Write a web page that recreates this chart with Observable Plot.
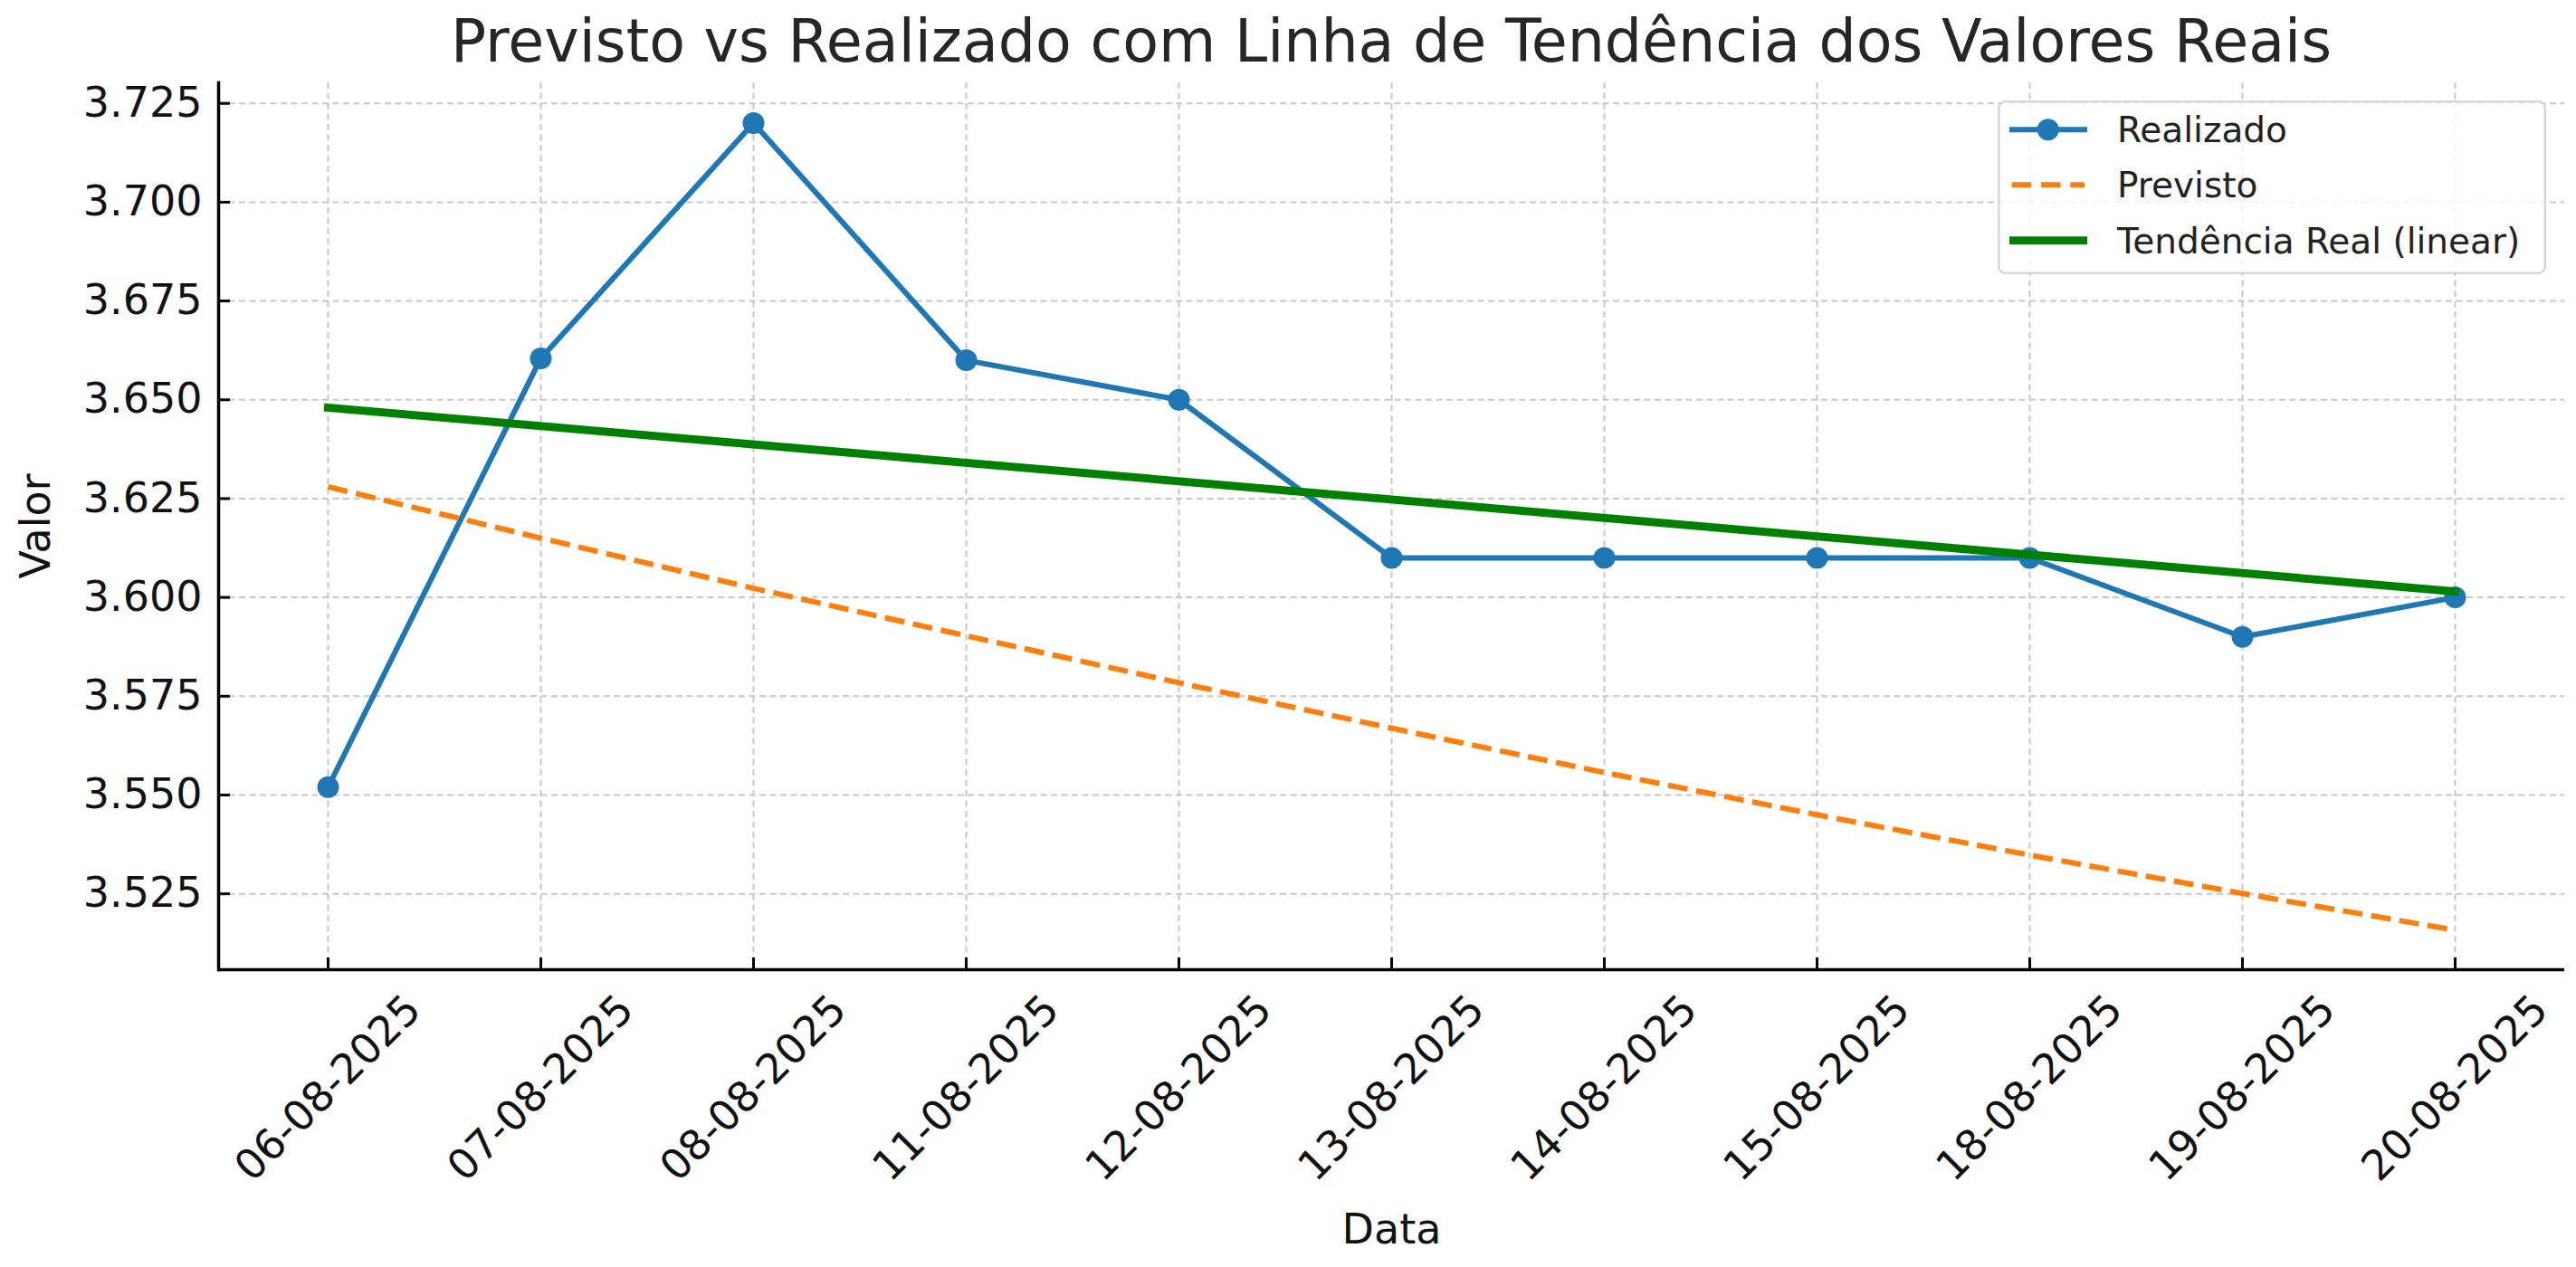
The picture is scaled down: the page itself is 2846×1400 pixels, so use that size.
<!DOCTYPE html>
<html><head><meta charset="utf-8">
<script src="https://cdn.jsdelivr.net/npm/d3@7"></script>
<script src="https://cdn.jsdelivr.net/npm/@observablehq/plot@0.6"></script>
<style>
html,body{margin:0;padding:0;background:#fff;}
#wrap{position:relative;width:2846px;height:1400px;font-family:"DejaVu Sans",sans-serif;overflow:hidden;}
#title{position:absolute;left:241px;width:2592px;top:13px;text-align:center;font-size:65px;line-height:65px;color:#262626;white-space:nowrap;}
#chart{position:absolute;left:0;top:86px;}
#legend{position:absolute;left:2207px;top:111px;}
</style></head>
<body><div id="wrap"><div id="title"></div><div id="chart"></div><div id="legend"></div></div>
<script>
// ---- data ----
const dates = ["06-08-2025","07-08-2025","08-08-2025","11-08-2025","12-08-2025","13-08-2025","14-08-2025","15-08-2025","18-08-2025","19-08-2025","20-08-2025"];
const realizado = [3.552, 3.6605, 3.720, 3.660, 3.650, 3.610, 3.610, 3.610, 3.610, 3.590, 3.600];
const previsto = [3.6280, 3.6150, 3.6023, 3.5903, 3.5784, 3.5669, 3.5557, 3.5450, 3.5348, 3.5251, 3.5158];
const trendDates = ["06-08-2025", "20-08-2025"];
const trendValues = [3.6480, 3.6015];
const yTicks = [3.525, 3.550, 3.575, 3.600, 3.625, 3.650, 3.675, 3.700, 3.725];
const yDomain = [3.5058, 3.7302];
const seriesNames = ["Realizado", "Previsto", "Tendência Real (linear)"];
const seriesColors = ["#1f77b4", "#ff7f0e", "#008000"];
const titleText = "Previsto vs Realizado com Linha de Tendência dos Valores Reais";
const xLabel = "Data";
const yLabel = "Valor";

// ---- build tables ----
const realRows = dates.map((d, i) => ({date: d, value: realizado[i]}));
const prevRows = dates.map((d, i) => ({date: d, value: previsto[i]}));
const trendRows = trendDates.map((d, i) => ({date: d, value: trendValues[i]}));

document.getElementById("title").textContent = titleText;

const W = 2846, H = 1314;
const mL = 241, mR = 13, mT = 5, mB = 329;
const plotW = W - mL - mR, plotH = H - mT - mB;
const tickLen = 13;
const gridStyle = {stroke: "#c8c8c8", strokeOpacity: 1, strokeWidth: 2, strokeDasharray: "7,4.5"};

const chart = Plot.plot({
  width: W, height: H,
  marginLeft: mL, marginRight: mR, marginTop: mT, marginBottom: mB,
  style: {fontFamily: "DejaVu Sans", fontSize: "46px", color: "#111", background: "white", overflow: "visible"},
  x: {type: "point", domain: dates, padding: 0.5, axis: null},
  y: {domain: yDomain, ticks: yTicks, tickFormat: d3.format(".3f"), tickSize: 0, tickPadding: 18, label: null},
  marks: [
    Plot.ruleY(yTicks, {y: d => d, ...gridStyle}),
    Plot.ruleX(dates, {x: d => d, ...gridStyle}),
    Plot.tickY(yTicks, {y: d => d, stroke: "#000", strokeWidth: 3, insetRight: plotW - tickLen}),
    Plot.tickX(dates, {x: d => d, stroke: "#000", strokeWidth: 3, insetTop: plotH - tickLen}),
    Plot.ruleY([yDomain[0]], {stroke: "#000", strokeWidth: 3.5}),
    Plot.frame({anchor: "left", stroke: "#000", strokeWidth: 3.5}),
    Plot.text(dates, {x: d => d, text: d => d, frameAnchor: "bottom", rotate: -45, textAnchor: "middle", lineAnchor: "middle", dy: 131, fontSize: 46, fill: "#111"}),
    Plot.text([xLabel], {text: d => d, frameAnchor: "bottom", lineAnchor: "bottom", dy: 302, fontSize: 46, fill: "#111"}),
    Plot.text([yLabel], {text: d => d, frameAnchor: "left", dx: -201, rotate: -90, textAnchor: "middle", lineAnchor: "middle", fontSize: 46, fill: "#111"}),
    Plot.line(realRows, {x: "date", y: "value", stroke: seriesColors[0], strokeWidth: 6, strokeLinejoin: "round"}),
    Plot.dot(realRows, {x: "date", y: "value", r: 12, fill: seriesColors[0], stroke: "none"}),
    Plot.line(prevRows, {x: "date", y: "value", stroke: seriesColors[1], strokeWidth: 6, strokeDasharray: "22,9.6", strokeLinecap: "butt"}),
    Plot.line(trendRows, {x: "date", y: "value", stroke: seriesColors[2], strokeWidth: 9, strokeLinecap: "square"})
  ]
});
document.getElementById("chart").appendChild(chart);

// ---- legend (overlay inside the plot area, like matplotlib) ----
const lg = d3.select("#legend").append("svg").attr("width", 608).attr("height", 194)
  .style("font-family", "DejaVu Sans").style("overflow", "visible");
lg.append("rect").attr("x", 1.25).attr("y", 1.25).attr("width", 603.5).attr("height", 189.5)
  .attr("rx", 7).attr("fill", "white").attr("fill-opacity", 0.8)
  .attr("stroke", "#cccccc").attr("stroke-opacity", 0.8).attr("stroke-width", 2.5);
const rowY = [32.3, 93.3, 154.7];
const handleStyles = [
  {w: 6, dash: null, marker: true},
  {w: 6, dash: "21.6,10.7", marker: false},
  {w: 9, dash: null, marker: false}
];
seriesNames.forEach((name, i) => {
  const g = lg.append("g").attr("transform", `translate(0,${rowY[i]})`);
  const hs = handleStyles[i];
  const ln = g.append("line").attr("x1", 13).attr("x2", 99).attr("y1", 0).attr("y2", 0)
    .attr("stroke", seriesColors[i]).attr("stroke-width", hs.w);
  if (hs.dash) ln.attr("stroke-dasharray", hs.dash).attr("x1", 15.7).attr("x2", 96);
  if (hs.marker) g.append("circle").attr("cx", 55.7).attr("cy", 0).attr("r", 12).attr("fill", seriesColors[i]);
  g.append("text").attr("x", 132).attr("y", 14).attr("font-size", 39).attr("fill", "#222").text(name);
});
</script>
</body></html>
